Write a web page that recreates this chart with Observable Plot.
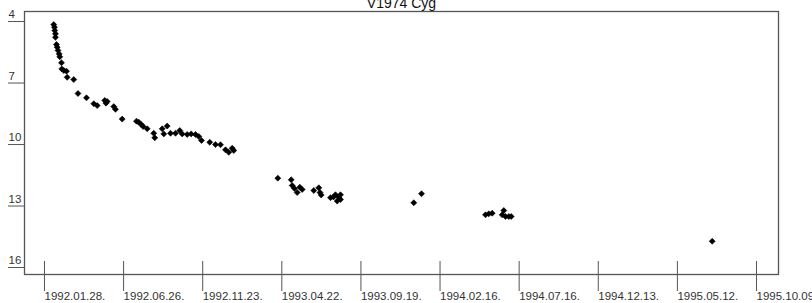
<!DOCTYPE html>
<html>
<head>
<meta charset="utf-8">
<script src="https://cdn.jsdelivr.net/npm/d3@7"></script>
<script src="https://cdn.jsdelivr.net/npm/@observablehq/plot@0.6"></script>
<style>
  html, body { margin: 0; padding: 0; background: #fff; overflow: hidden; }
  svg { display: block; }
</style>
</head>
<body>
<div id="chart"></div>
<script>
const title = "V1974 Cyg";

const jd = [
  2448674.7, 2448676.0, 2448676.6, 2448677.9, 2448677.9, 2448679.8, 2448681.2, 2448682.7, 2448685.0, 2448686.1,
  2448689.3, 2448689.9, 2448693.7, 2448698.8, 2448700.1, 2448712.6, 2448720.6, 2448736.7, 2448750.6, 2448757.0,
  2448771.4, 2448773.7, 2448776.0, 2448788.5, 2448791.7, 2448804.4, 2448831.5, 2448835.9, 2448840.4, 2448844.2,
  2448851.8, 2448864.3, 2448866.2, 2448880.3, 2448883.3, 2448889.7, 2448896.0, 2448905.5, 2448913.6, 2448918.2,
  2448927.7, 2448935.2, 2448943.4, 2448949.7, 2448954.8, 2448970.5, 2448981.3, 2448990.8, 2449000.3, 2449006.5,
  2449013.0, 2449016.0, 2449099.5, 2449124.9, 2449126.7, 2449131.1, 2449136.2, 2449141.2, 2449145.7, 2449167.7,
  2449177.2, 2449179.5, 2449181.7, 2449199.4, 2449205.1, 2449208.8, 2449212.1, 2449215.1, 2449218.3, 2449218.3,
  2449357.3, 2449371.9, 2449493.3, 2449499.5, 2449506.0, 2449528.0, 2449524.9, 2449531.2, 2449537.5, 2449542.0,
  2449923.1
];

const mag = [
  4.15, 4.28, 4.44, 4.60, 4.77, 5.12, 5.25, 5.41, 5.58, 5.72,
  6.01, 6.31, 6.39, 6.42, 6.72, 6.83, 7.51, 7.72, 8.01, 8.10,
  7.85, 7.98, 7.90, 8.15, 8.28, 8.76, 8.86, 8.91, 9.02, 9.12,
  9.23, 9.45, 9.67, 9.23, 9.48, 9.10, 9.45, 9.45, 9.32, 9.48,
  9.51, 9.48, 9.51, 9.61, 9.80, 9.89, 10.00, 10.01, 10.26, 10.38,
  10.18, 10.29, 11.64, 11.72, 12.00, 12.15, 12.34, 12.08, 12.19, 12.24,
  12.11, 12.34, 12.46, 12.59, 12.56, 12.45, 12.76, 12.57, 12.45, 12.68,
  12.84, 12.40, 13.43, 13.38, 13.35, 13.22, 13.43, 13.51, 13.51, 13.51,
  14.72
];

const xTickJD = [2448649.5, 2448799.5, 2448949.5, 2449099.5, 2449249.5, 2449399.5, 2449549.5, 2449699.5, 2449849.5, 2449999.5];
const xTickLabels = ["1992.01.28.", "1992.06.26.", "1992.11.23.", "1993.04.22.", "1993.09.19.", "1994.02.16.", "1994.07.16.", "1994.12.13.", "1995.05.12.", "1995.10.09."];
const yTicks = [4, 7, 10, 13, 16];

const data = jd.map((d, i) => ({jd: d, mag: mag[i]}));
const labelOf = new Map(xTickJD.map((d, i) => [d, xTickLabels[i]]));

const chart = Plot.plot({
  width: 812,
  height: 303,
  marginTop: 11,
  marginLeft: 24,
  marginRight: 34,
  marginBottom: 29,
  style: {fontFamily: "'Liberation Sans', Arial, sans-serif", fontSize: "11px", color: "#333", background: "#fff"},
  x: {domain: [2448619.2, 2450048.8]},
  y: {domain: [3.51, 16.34], reverse: true},
  marks: [
    Plot.frame({stroke: "#555", strokeWidth: 1.3}),
    Plot.axisY({ticks: yTicks, tickSize: 16, tickFormat: () => "", stroke: "#555", label: null}),
    Plot.text(yTicks, {y: d => d, frameAnchor: "left", dx: -16, dy: -7, textAnchor: "start", text: d => String(d), fontSize: 11.5, fill: "#333"}),
    Plot.axisX({ticks: xTickJD, tickSize: 30, tickPadding: 0, textAnchor: "start", dx: 4, dy: -13, stroke: "#555", fontSize: 11.5, label: null, tickFormat: d => labelOf.get(d)}),
    Plot.dot(data, {x: "jd", y: "mag", symbol: "diamond2", r: 2.7, fill: "#000", stroke: "#000", strokeWidth: 0.6}),
    Plot.text([title], {frameAnchor: "top", lineAnchor: "bottom", dy: -4, fontSize: 14, fill: "#111"})
  ]
});
document.getElementById("chart").appendChild(chart);
</script>
</body>
</html>
